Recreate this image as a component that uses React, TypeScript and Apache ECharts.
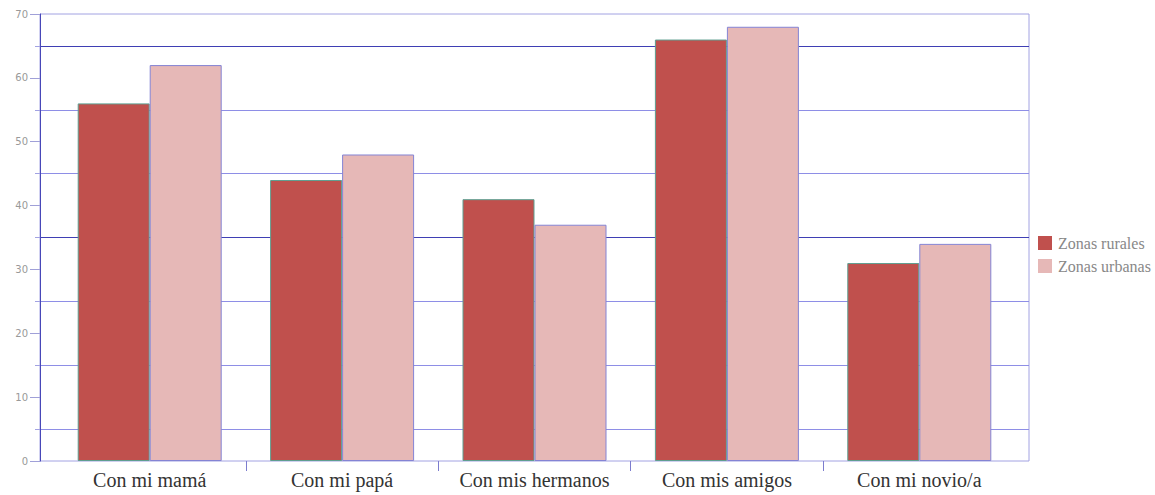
import React, { useEffect, useRef } from "react";
import * as echarts from "echarts";

const categories = ["Con mi mamá", "Con mi papá", "Con mis hermanos", "Con mis amigos", "Con mi novio/a"];
const seriesNames = ["Zonas rurales", "Zonas urbanas"];
const rurales = [56, 44, 41, 66, 31];
const urbanas = [62, 48, 37, 68, 34];
const yMin = 0;
const yMax = 70;
const lightGridValues = [5, 15, 25, 45, 55];
const darkGridValues = [35, 65];

const LIGHT = "#a2a2e2";
const GRIDLIGHT = "#8e8ee6";
const DARK = "#3f3fb4";
const NONE = "rgba(0,0,0,0)";

export default function App() {
  const ref = useRef<HTMLDivElement>(null);
  useEffect(() => {
    if (!ref.current) return;
    const chart = echarts.init(ref.current, null, { renderer: "svg" });
    const frame = { left: 40, top: 14, width: 989, height: 447 };
    const bars = { left: 53.5, top: 14, width: 962, height: 447 };
    const gridLines = [
      ...lightGridValues.map((v) => ({ yAxis: v, lineStyle: { color: GRIDLIGHT, width: 1, type: "solid" } })),
      ...darkGridValues.map((v) => ({ yAxis: v, lineStyle: { color: DARK, width: 1, type: "solid" } })),
    ];
    chart.setOption({
      animation: false,
      backgroundColor: "#ffffff",
      grid: [
        { ...frame, show: true, borderColor: LIGHT, borderWidth: 1, backgroundColor: NONE },
        { ...frame },
        { ...bars },
        { ...bars },
      ],
      xAxis: [
        { type: "value", gridIndex: 0, show: false, min: 0, max: 1 },
        { type: "value", gridIndex: 1, show: false, min: 0, max: 1 },
        {
          type: "category",
          gridIndex: 2,
          data: categories,
          axisLine: { show: false },
          axisTick: { show: false },
          axisLabel: {
            interval: 0,
            margin: 9,
            fontFamily: "Liberation Serif",
            fontSize: 20,
            color: "#333333",
          },
        },
        {
          type: "value",
          gridIndex: 3,
          min: 0,
          max: 5,
          interval: 1,
          axisLine: { show: false },
          axisLabel: { show: false },
          splitLine: { show: false },
          axisTick: {
            show: true,
            length: 10,
            customValues: [1, 2, 3, 4],
            lineStyle: { color: "#7c7cce", width: 1 },
          },
        },
      ],
      yAxis: [
        {
          type: "value",
          gridIndex: 0,
          position: "left",
          min: yMin,
          max: yMax,
          interval: 5,
          axisLine: { show: false },
          axisLabel: { show: false },
          axisTick: { show: true, length: 5, lineStyle: { color: LIGHT } },
          splitLine: { show: false },
        },
        {
          type: "value",
          gridIndex: 1,
          position: "left",
          min: yMin,
          max: yMax,
          interval: 10,
          axisLine: { show: true, lineStyle: { color: "#4848b8", width: 1 } },
          axisTick: { show: true, length: 10, lineStyle: { color: "#a0a0d8" } },
          axisLabel: { margin: 12, fontFamily: "DejaVu Sans", fontSize: 10, color: "#999999" },
          splitLine: { show: false },
        },
        { type: "value", gridIndex: 2, show: false, min: yMin, max: yMax },
        { type: "value", gridIndex: 3, show: false, min: yMin, max: yMax },
      ],
      legend: {
        orient: "vertical",
        left: 1038,
        top: 235,
        padding: 0,
        itemWidth: 14,
        itemHeight: 14,
        itemGap: 7,
        icon: "rect",
        itemStyle: { borderWidth: 0 },
        textStyle: { fontFamily: "Liberation Serif", fontSize: 16, color: "#888888", lineHeight: 14, padding: [0, 0, 0, 1] },
        data: seriesNames,
      },
      series: [
        {
          name: "grid",
          type: "line",
          xAxisIndex: 0,
          yAxisIndex: 0,
          data: [],
          silent: true,
          z: 0,
          markLine: {
            silent: true,
            z: 0,
            symbol: ["none", "none"],
            label: { show: false },
            data: gridLines,
          },
        },
        {
          name: seriesNames[0],
          type: "bar",
          xAxisIndex: 2,
          yAxisIndex: 2,
          data: rurales,
          barWidth: 72,
          barGap: "0%",
          z: 3,
          itemStyle: { color: "#c0504d", borderColor: "#5f9e90", borderWidth: 1 },
        },
        {
          name: seriesNames[1],
          type: "bar",
          xAxisIndex: 2,
          yAxisIndex: 2,
          data: urbanas,
          barWidth: 72,
          barGap: "0%",
          z: 3,
          itemStyle: { color: "#e6b8b7", borderColor: "#8484d4", borderWidth: 1 },
        },
      ],
    });
    return () => chart.dispose();
  }, []);
  return (
    <div
      ref={ref}
      style={{ position: "fixed", left: 0, top: 0, width: 1155, height: 495 }}
    />
  );
}
